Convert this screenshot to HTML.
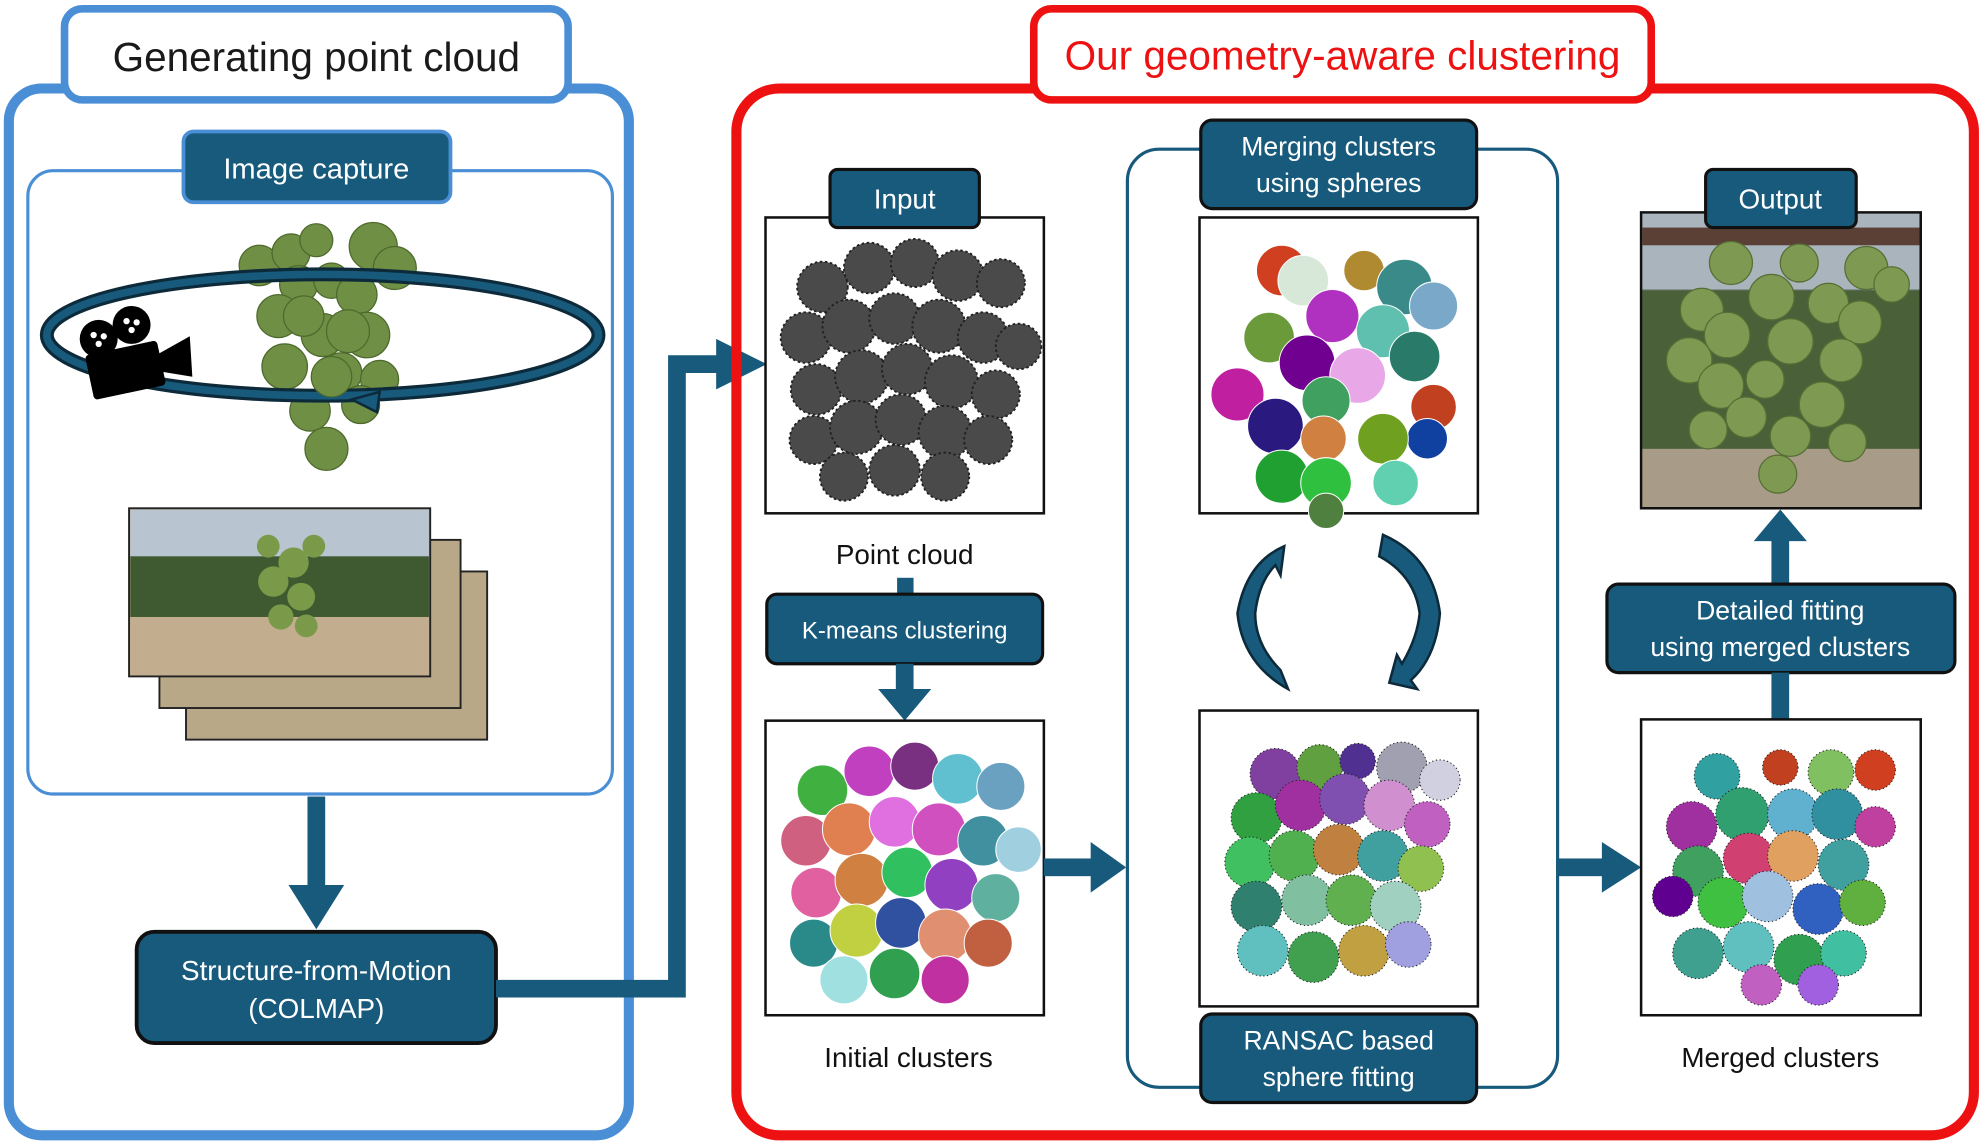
<!DOCTYPE html>
<html><head><meta charset="utf-8"><style>
html,body{margin:0;padding:0;background:#fff;width:1984px;height:1148px;overflow:hidden}
svg{display:block}
text{font-family:"Liberation Sans",sans-serif}
</style></head><body>
<svg width="1984" height="1148" viewBox="0 0 1568 908" preserveAspectRatio="none" xmlns="http://www.w3.org/2000/svg">
<defs>
<g id="pos">
<circle cx="45" cy="55" r="20"/><circle cx="82" cy="40" r="20"/><circle cx="118" cy="36" r="19"/><circle cx="152" cy="46" r="20"/><circle cx="186" cy="52" r="19"/>
<circle cx="32" cy="95" r="20"/><circle cx="66" cy="86" r="21"/><circle cx="102" cy="80" r="20"/><circle cx="137" cy="86" r="21"/><circle cx="172" cy="95" r="20"/><circle cx="200" cy="102" r="18"/>
<circle cx="40" cy="136" r="20"/><circle cx="76" cy="126" r="21"/><circle cx="112" cy="120" r="20"/><circle cx="147" cy="130" r="21"/><circle cx="182" cy="140" r="19"/>
<circle cx="38" cy="176" r="19"/><circle cx="72" cy="166" r="21"/><circle cx="107" cy="160" r="20"/><circle cx="142" cy="170" r="21"/><circle cx="176" cy="176" r="19"/>
<circle cx="62" cy="205" r="19"/><circle cx="102" cy="200" r="20"/><circle cx="142" cy="205" r="19"/>
</g>
</defs>

<!-- LEFT PANEL -->
<rect x="7" y="70" width="490" height="828" rx="26" fill="none" stroke="#4a8fd6" stroke-width="8"/>
<rect x="51" y="7" width="398" height="72" rx="14" fill="#fff" stroke="#4a8fd6" stroke-width="6"/>
<text x="250" y="56" font-size="32" text-anchor="middle" fill="#1a1a1a">Generating point cloud</text>
<rect x="22" y="135" width="462" height="493" rx="20" fill="none" stroke="#4a8fd6" stroke-width="2.5"/>
<rect x="145" y="104" width="211" height="56" rx="8" fill="#175a7c" stroke="#4a8fd6" stroke-width="3"/>
<text x="250" y="141" font-size="23" text-anchor="middle" fill="#fff">Image capture</text>

<!-- grapes -->
<g fill="#6f8f45" stroke="#4d6a2c" stroke-width="1">
<circle cx="205" cy="210" r="16"/><circle cx="230" cy="200" r="15"/><circle cx="250" cy="190" r="13"/><circle cx="295" cy="195" r="19"/><circle cx="312" cy="212" r="17"/>
<circle cx="236" cy="225" r="15"/><circle cx="262" cy="222" r="14"/><circle cx="282" cy="233" r="16"/><circle cx="220" cy="250" r="17"/><circle cx="255" cy="265" r="17"/>
<circle cx="290" cy="265" r="18"/><circle cx="225" cy="290" r="18"/><circle cx="270" cy="295" r="16"/><circle cx="300" cy="300" r="15"/><circle cx="245" cy="325" r="16"/><circle cx="285" cy="320" r="15"/><circle cx="258" cy="355" r="17"/>
</g>
<ellipse cx="255" cy="265" rx="218" ry="48" fill="none" stroke="#0d2a3a" stroke-width="11"/>
<ellipse cx="255" cy="265" rx="218" ry="48" fill="none" stroke="#175a7c" stroke-width="6"/>
<g fill="#6f8f45" stroke="#4d6a2c" stroke-width="1">
<circle cx="240" cy="250" r="16"/><circle cx="275" cy="262" r="17"/><circle cx="262" cy="298" r="16"/>
</g>
<path d="M300 310 L278 316 L298 326 Z" fill="#175a7c" stroke="#0d2a3a" stroke-width="2"/>
<!-- camera -->
<g fill="#000">
<circle cx="78" cy="268" r="15"/><circle cx="104" cy="257" r="15"/>
<rect x="70" y="275" width="58" height="36" rx="3" transform="rotate(-12 98 292)"/>
<path d="M125 280 L150 266 L152 298 L128 294 Z"/>
</g>
<g fill="#fff"><circle cx="74" cy="265" r="2.5"/><circle cx="82" cy="266" r="2.5"/><circle cx="78" cy="272" r="2.5"/><circle cx="100" cy="254" r="2.5"/><circle cx="108" cy="255" r="2.5"/><circle cx="104" cy="261" r="2.5"/></g>

<!-- photo stack -->
<g stroke="#222" stroke-width="1.5">
<rect x="147" y="452" width="238" height="133" fill="#b8a888"/>
<rect x="126" y="427" width="238" height="133" fill="#b8a888"/>
<rect x="102" y="402" width="238" height="133" fill="#c0ad8c"/>
</g>
<rect x="103" y="403" width="236" height="40" fill="#b8c4d0"/>
<rect x="103" y="440" width="236" height="48" fill="#3f5a30"/>
<rect x="103" y="488" width="236" height="46" fill="#c2ae8e"/>
<g fill="#7a9a4a"><circle cx="212" cy="432" r="9"/><circle cx="232" cy="445" r="12"/><circle cx="216" cy="460" r="12"/><circle cx="238" cy="472" r="11"/><circle cx="222" cy="488" r="10"/><circle cx="242" cy="495" r="9"/><circle cx="248" cy="432" r="9"/></g>

<!-- arrow down -->
<rect x="243" y="630" width="14" height="72" fill="#175a7c"/>
<path d="M228 700 L272 700 L250 735 Z" fill="#175a7c"/>
<rect x="108" y="737" width="284" height="88" rx="14" fill="#175a7c" stroke="#111" stroke-width="3"/>
<text x="250" y="775" font-size="22" text-anchor="middle" fill="#fff">Structure-from-Motion</text>
<text x="250" y="805" font-size="22" text-anchor="middle" fill="#fff">(COLMAP)</text>

<!-- connector -->
<path d="M392 782 L535 782 L535 288 L570 288" fill="none" stroke="#175a7c" stroke-width="14"/>
<path d="M566 268 L606 288 L566 308 Z" fill="#175a7c"/>

<!-- RIGHT PANEL -->
<rect x="582" y="70" width="978" height="828" rx="34" fill="none" stroke="#ee1111" stroke-width="8"/>
<rect x="817" y="7" width="488" height="72" rx="14" fill="#fff" stroke="#ee1111" stroke-width="6"/>
<text x="1061" y="55" font-size="32" text-anchor="middle" fill="#ee1111">Our geometry-aware clustering</text>

<!-- input -->
<rect x="605" y="172" width="220" height="234" fill="#fff" stroke="#111" stroke-width="2"/>
<g transform="translate(605,172)" fill="#4a4a4a" stroke="#222" stroke-width="1.5" stroke-dasharray="2 2"><use href="#pos"/></g>
<rect x="656" y="134" width="118" height="46" rx="6" fill="#175a7c" stroke="#111" stroke-width="2.5"/>
<text x="715" y="165" font-size="22" text-anchor="middle" fill="#fff">Input</text>
<text x="715" y="446" font-size="22" text-anchor="middle" fill="#111">Point cloud</text>
<rect x="709" y="457" width="13" height="14" fill="#175a7c"/>
<rect x="606" y="470" width="218" height="55" rx="8" fill="#175a7c" stroke="#111" stroke-width="2.5"/>
<text x="715" y="505" font-size="19" text-anchor="middle" fill="#fff">K-means clustering</text>
<rect x="708" y="525" width="14" height="22" fill="#175a7c"/>
<path d="M694 545 L736 545 L715 570 Z" fill="#175a7c"/>

<!-- initial clusters -->
<rect x="605" y="570" width="220" height="233" fill="#fff" stroke="#111" stroke-width="2"/>
<g transform="translate(605,570)" stroke="#fff" stroke-width="0.8">
<circle cx="45" cy="55" r="20" fill="#40b040"/><circle cx="82" cy="40" r="20" fill="#c040c0"/><circle cx="118" cy="36" r="19" fill="#7a3080"/><circle cx="152" cy="46" r="20" fill="#60c0d0"/><circle cx="186" cy="52" r="19" fill="#6aa0c0"/>
<circle cx="32" cy="95" r="20" fill="#d06080"/><circle cx="66" cy="86" r="21" fill="#e08050"/><circle cx="102" cy="80" r="20" fill="#e070e0"/><circle cx="137" cy="86" r="21" fill="#d050c0"/><circle cx="172" cy="95" r="20" fill="#4090a0"/><circle cx="200" cy="102" r="18" fill="#a0d0e0"/>
<circle cx="40" cy="136" r="20" fill="#e060a0"/><circle cx="76" cy="126" r="21" fill="#d08040"/><circle cx="112" cy="120" r="20" fill="#30c060"/><circle cx="147" cy="130" r="21" fill="#9040c0"/><circle cx="182" cy="140" r="19" fill="#60b0a0"/>
<circle cx="38" cy="176" r="19" fill="#2a8a8a"/><circle cx="72" cy="166" r="21" fill="#c0d040"/><circle cx="107" cy="160" r="20" fill="#3050a0"/><circle cx="142" cy="170" r="21" fill="#e09070"/><circle cx="176" cy="176" r="19" fill="#c06040"/>
<circle cx="62" cy="205" r="19" fill="#a0e0e0"/><circle cx="102" cy="200" r="20" fill="#30a050"/><circle cx="142" cy="205" r="19" fill="#c030a0"/>
</g>
<text x="718" y="844" font-size="22" text-anchor="middle" fill="#111">Initial clusters</text>

<!-- arrow right 1 -->
<rect x="825" y="679" width="40" height="14" fill="#175a7c"/>
<path d="M862 666 L890 686 L862 706 Z" fill="#175a7c"/>

<!-- middle frame -->
<rect x="891" y="118" width="340" height="742" rx="25" fill="none" stroke="#175a7c" stroke-width="2.5"/>
<rect x="948" y="172" width="220" height="234" fill="#fff" stroke="#111" stroke-width="2"/>
<g transform="translate(948,172)" stroke="#fff" stroke-width="0.8">
<circle cx="65" cy="42" r="20" fill="#d04020"/><circle cx="82" cy="50" r="20" fill="#d8e8d8"/><circle cx="130" cy="42" r="16" fill="#b08a30"/><circle cx="162" cy="55" r="22" fill="#3a8a8a"/><circle cx="185" cy="70" r="19" fill="#7aa8c8"/>
<circle cx="55" cy="95" r="20" fill="#6a9a3a"/><circle cx="105" cy="78" r="21" fill="#b030c0"/><circle cx="145" cy="90" r="21" fill="#60c0b0"/><circle cx="170" cy="110" r="20" fill="#2a7a6a"/>
<circle cx="30" cy="140" r="21" fill="#c0209f"/><circle cx="85" cy="115" r="22" fill="#700090"/><circle cx="125" cy="125" r="22" fill="#e8a8e8"/><circle cx="185" cy="150" r="18" fill="#c04020"/>
<circle cx="60" cy="165" r="22" fill="#2a1a80"/><circle cx="100" cy="145" r="19" fill="#40a060"/><circle cx="98" cy="175" r="18" fill="#d08040"/><circle cx="180" cy="175" r="16" fill="#1040a0"/><circle cx="145" cy="175" r="20" fill="#70a020"/>
<circle cx="65" cy="205" r="21" fill="#20a030"/><circle cx="100" cy="210" r="20" fill="#30c040"/><circle cx="155" cy="210" r="18" fill="#60d0b0"/><circle cx="100" cy="232" r="14" fill="#508040"/>
</g>
<rect x="949" y="95" width="218" height="70" rx="9" fill="#175a7c" stroke="#111" stroke-width="2.5"/>
<text x="1058" y="123" font-size="21" text-anchor="middle" fill="#fff">Merging clusters</text>
<text x="1058" y="152" font-size="21" text-anchor="middle" fill="#fff">using spheres</text>

<!-- circular arrows -->
<path d="M1015 432 Q985 445 978 485 Q982 525 1018 545 L1012 530 Q992 510 992 485 Q995 460 1008 447 L1012 455 Z" fill="#175a7c" stroke="#0d2a3a" stroke-width="2"/>
<path d="M1093 423 Q1132 440 1138 485 Q1135 520 1115 538 L1120 545 L1098 540 L1104 518 L1108 525 Q1120 505 1122 485 Q1118 455 1090 440 Z" fill="#175a7c" stroke="#0d2a3a" stroke-width="2"/>

<rect x="948" y="562" width="220" height="234" fill="#fff" stroke="#111" stroke-width="2"/>
<g transform="translate(948,562)" stroke="#222" stroke-width="0.8" stroke-dasharray="1 2">
<circle cx="60" cy="50" r="20" fill="#8040a0"/><circle cx="95" cy="45" r="18" fill="#60a040"/><circle cx="125" cy="40" r="14" fill="#503090"/><circle cx="160" cy="45" r="20" fill="#a0a0b0"/><circle cx="190" cy="55" r="16" fill="#d0d0e0"/>
<circle cx="45" cy="85" r="20" fill="#30a040"/><circle cx="80" cy="75" r="20" fill="#a030a0"/><circle cx="115" cy="70" r="20" fill="#8050b0"/><circle cx="150" cy="75" r="20" fill="#d090d0"/><circle cx="180" cy="90" r="18" fill="#c060c0"/>
<circle cx="40" cy="120" r="20" fill="#40c060"/><circle cx="75" cy="115" r="20" fill="#50b050"/><circle cx="110" cy="110" r="20" fill="#c08040"/><circle cx="145" cy="115" r="20" fill="#40a0a0"/><circle cx="175" cy="125" r="18" fill="#90c050"/>
<circle cx="45" cy="155" r="20" fill="#308070"/><circle cx="85" cy="150" r="20" fill="#80c0a0"/><circle cx="120" cy="150" r="20" fill="#60b050"/><circle cx="155" cy="155" r="20" fill="#a0d0c0"/>
<circle cx="50" cy="190" r="20" fill="#60c0c0"/><circle cx="90" cy="195" r="20" fill="#40a050"/><circle cx="130" cy="190" r="20" fill="#c0a040"/><circle cx="165" cy="185" r="18" fill="#a0a0e0"/>
</g>
<rect x="949" y="802" width="218" height="70" rx="9" fill="#175a7c" stroke="#111" stroke-width="2.5"/>
<text x="1058" y="830" font-size="21" text-anchor="middle" fill="#fff">RANSAC based</text>
<text x="1058" y="859" font-size="21" text-anchor="middle" fill="#fff">sphere fitting</text>

<!-- arrow right 2 -->
<rect x="1231" y="679" width="38" height="14" fill="#175a7c"/>
<path d="M1266 666 L1297 686 L1266 706 Z" fill="#175a7c"/>

<!-- output -->
<rect x="1297" y="168" width="221" height="234" fill="#5a6a55" stroke="#111" stroke-width="2"/>
<rect x="1298" y="169" width="219" height="60" fill="#aab4bc"/>
<rect x="1298" y="180" width="219" height="14" fill="#5a4035"/>
<rect x="1298" y="230" width="219" height="130" fill="#4a6038"/>
<rect x="1298" y="355" width="219" height="46" fill="#a89c88"/>
<g fill="#7e9a52" stroke="#566e34" stroke-width="1">
<circle cx="1368" cy="208" r="17"/><circle cx="1422" cy="208" r="15"/><circle cx="1475" cy="212" r="17"/><circle cx="1495" cy="225" r="14"/>
<circle cx="1345" cy="245" r="17"/><circle cx="1400" cy="235" r="18"/><circle cx="1445" cy="240" r="16"/><circle cx="1470" cy="255" r="17"/>
<circle cx="1335" cy="285" r="18"/><circle cx="1365" cy="265" r="18"/><circle cx="1415" cy="270" r="18"/><circle cx="1455" cy="285" r="17"/>
<circle cx="1360" cy="305" r="18"/><circle cx="1395" cy="300" r="15"/><circle cx="1440" cy="320" r="18"/><circle cx="1380" cy="330" r="16"/>
<circle cx="1350" cy="340" r="15"/><circle cx="1415" cy="345" r="16"/><circle cx="1460" cy="350" r="15"/><circle cx="1405" cy="375" r="15"/>
</g>
<rect x="1348" y="134" width="119" height="46" rx="6" fill="#175a7c" stroke="#111" stroke-width="2.5"/>
<text x="1407" y="165" font-size="22" text-anchor="middle" fill="#fff">Output</text>

<!-- up arrow -->
<path d="M1386 428 L1428 428 L1407 403 Z" fill="#175a7c"/>
<rect x="1400" y="426" width="14" height="36" fill="#175a7c"/>
<rect x="1270" y="462" width="275" height="70" rx="9" fill="#175a7c" stroke="#111" stroke-width="2.5"/>
<text x="1407" y="490" font-size="21" text-anchor="middle" fill="#fff">Detailed fitting</text>
<text x="1407" y="519" font-size="21" text-anchor="middle" fill="#fff">using merged clusters</text>
<rect x="1400" y="532" width="14" height="38" fill="#175a7c"/>

<!-- merged clusters -->
<rect x="1297" y="569" width="221" height="234" fill="#fff" stroke="#111" stroke-width="2"/>
<g transform="translate(1297,569)" stroke="#222" stroke-width="0.8" stroke-dasharray="1 2">
<circle cx="60" cy="45" r="18" fill="#30a0a0"/><circle cx="110" cy="38" r="14" fill="#c04020"/><circle cx="150" cy="42" r="18" fill="#80c060"/><circle cx="185" cy="40" r="16" fill="#d04020"/>
<circle cx="40" cy="85" r="20" fill="#a030a0"/><circle cx="80" cy="75" r="21" fill="#30a070"/><circle cx="120" cy="75" r="20" fill="#60b0d0"/><circle cx="155" cy="75" r="20" fill="#3090a0"/><circle cx="185" cy="85" r="16" fill="#c040a0"/>
<circle cx="45" cy="120" r="20" fill="#40a060"/><circle cx="85" cy="110" r="20" fill="#d04070"/><circle cx="120" cy="108" r="20" fill="#e0a060"/><circle cx="160" cy="115" r="20" fill="#40a0a0"/>
<circle cx="25" cy="140" r="16" fill="#600090"/><circle cx="65" cy="145" r="20" fill="#40c040"/><circle cx="100" cy="140" r="20" fill="#a0c0e0"/><circle cx="140" cy="150" r="20" fill="#3060c0"/><circle cx="175" cy="145" r="18" fill="#60b040"/>
<circle cx="45" cy="185" r="20" fill="#40a090"/><circle cx="85" cy="180" r="20" fill="#60c0c0"/><circle cx="125" cy="190" r="20" fill="#30a050"/><circle cx="160" cy="185" r="18" fill="#40c0a0"/>
<circle cx="95" cy="210" r="16" fill="#c060c0"/><circle cx="140" cy="210" r="16" fill="#a060e0"/>
</g>
<text x="1407" y="844" font-size="22" text-anchor="middle" fill="#111">Merged clusters</text>
</svg>
</body></html>
